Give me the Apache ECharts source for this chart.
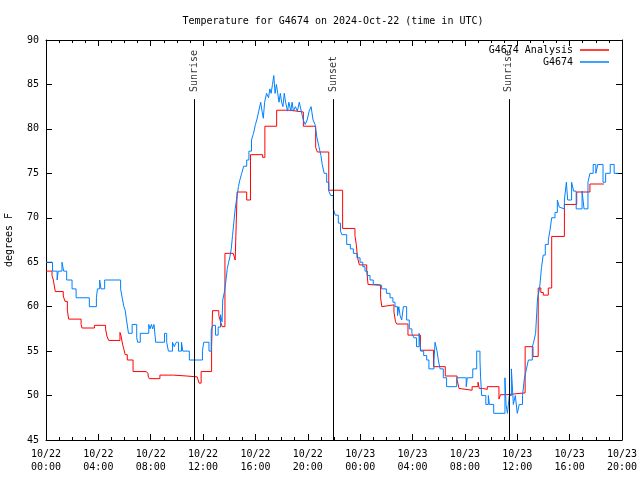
<!DOCTYPE html>
<html><head><meta charset="utf-8">
<script src="https://cdn.jsdelivr.net/npm/echarts@6/dist/echarts.min.js"></script>
<style>html,body{margin:0;padding:0;background:#fff}#c{width:640px;height:480px}</style>
</head><body><div id="c"></div>
<script>
// Hours since 2024-10-22 00:00 UTC
const xTickHours = [0,4,8,12,16,20,24,28,32,36,40,44];
const xTickLabels = ["10/22\n00:00","10/22\n04:00","10/22\n08:00","10/22\n12:00","10/22\n16:00","10/22\n20:00",
  "10/23\n00:00","10/23\n04:00","10/23\n08:00","10/23\n12:00","10/23\n16:00","10/23\n20:00"];
const yTicks = [45,50,55,60,65,70,75,80,85,90];

const analysisHours = [0,0.46,0.56,0.66,0.71,1.32,1.45,1.63,1.73,2.68,2.75,3.7,4.55,4.65,4.79,5.65,5.72,5.86,5.95,6.05,6.21,6.65,7.64,7.8,7.89,8.7,9.73,10.75,11.55,11.69,11.85,12.65,12.72,13.2,13.3,13.45,13.67,14.3,14.45,14.6,15.33,15.62,16.55,16.72,17.62,18.64,19.66,20.6,20.73,21.6,22.66,23.6,23.7,23.8,23.94,24.5,24.6,24.7,25.56,25.65,25.77,26.58,26.7,26.79,27.65,28.6,29.6,30.5,31.4,31.55,31.63,32.55,33.0,33.1,33.36,33.71,34.6,34.72,35.2,36.6,37.2,37.6,37.8,37.99,38.37,38.63,39.6,40.54,41.55,42.62];
const analysisTemps = [64,63.5,63,62.8,61.7,61.2,60.6,59.6,58.6,58.0,57.6,57.9,57.5,56.7,56.2,57.1,56.8,55.7,55.2,54.6,54.0,52.7,52.5,52.2,51.9,52.3,52.2,52.1,52.0,51.4,52.7,55.5,59.55,59.0,58.5,57.75,66.0,66.2,65.25,72.9,72.0,77.1,76.8,80.3,82.1,81.9,80.3,77.9,77.4,73.1,68.8,68.0,67.0,65.5,64.7,64.1,62.5,62.4,61.0,60.0,60.2,59.4,58.3,58.05,56.8,55.1,53.25,52.2,51.8,50.8,50.6,51.0,51.5,50.8,50.7,51.0,49.6,50.1,50.3,55.5,54.4,62.1,61.6,61.3,62.1,67.9,71.5,72.9,73.8,73.8];

const obsHours = [0,0.5,0.85,0.93,1.22,1.35,1.58,1.99,2.3,3.31,3.85,3.93,4.1,4.2,4.48,5.7,5.82,5.95,6.05,6.15,6.25,6.3,6.58,6.93,7.0,7.2,7.85,7.95,8.05,8.15,8.25,8.38,9.05,9.22,9.35,9.66,9.8,9.95,10.12,10.35,10.45,10.95,11.95,12.05,12.45,12.62,12.75,12.95,13.15,13.33,13.45,13.5,13.62,13.75,13.85,13.95,14.05,14.15,14.25,14.35,14.45,14.6,14.7,14.8,14.95,15.1,15.33,15.5,15.7,15.85,16.0,16.1,16.25,16.4,16.5,16.6,16.7,16.85,17.0,17.1,17.2,17.3,17.4,17.5,17.6,17.7,17.8,17.9,18.0,18.1,18.2,18.3,18.45,18.55,18.7,18.8,18.9,19.05,19.2,19.35,19.5,19.65,19.8,19.95,20.1,20.25,20.4,20.55,20.7,20.85,21.0,21.1,21.25,21.44,21.6,21.75,21.95,22.1,22.33,22.5,22.6,22.97,23.25,23.48,23.75,23.99,24.2,24.37,24.55,24.75,25.0,25.39,25.64,26.0,26.28,26.5,26.66,26.85,26.95,27.05,27.17,27.3,27.45,27.55,27.75,27.95,28.1,28.3,28.5,28.62,28.85,29.08,29.25,29.64,29.72,29.87,29.97,30.1,30.35,30.6,31.37,32.1,32.18,32.6,32.9,33.15,33.2,33.28,33.6,33.79,33.87,34.2,35.06,35.14,35.25,35.39,35.55,35.7,35.85,36.0,36.15,36.4,36.55,36.7,36.85,37.15,37.25,37.4,37.55,37.7,37.85,37.98,38.14,38.37,38.5,38.63,38.88,39.06,39.21,39.35,39.6,39.75,39.85,40.15,40.3,40.5,40.95,41.1,41.4,41.55,41.8,42.0,42.15,42.55,42.75,43.1,43.4,43.72];
const obsTemps = [65,64,63,64,65,64,63,62,61,60,61,62,63,62,63,62,61,60,59.6,58.5,57.5,57,58,56.5,56,57,58,57.5,58,57.5,58,56,57,56,55,56,55.5,56,55,56,55,54,55,56,55,57.4,57.9,56.8,57.7,59.1,58.3,60.75,61.6,63,64.3,65,65.6,66.5,68,69.5,71,72.5,73.5,74.2,75,75.8,76.5,77.5,78.75,79.5,80.5,81,82,83,82,81.2,83,84,83.5,84.5,84,85,86,84,85,84,83,84,83,82.5,84,83,82,83,82,83,82,82.5,82,83,82,81,80.5,81,82,82.5,81,80.5,79,78,77,76,75,74,73,72.5,71,70.3,69.4,68.5,68.1,67,66.5,66,65.5,65,64.5,64,63.5,63,62.5,62.4,62,61.5,61,60.5,60,59,60,59,58.5,60,60,58.5,57.5,57,56.5,55.5,57,55,54.5,54,53,54,56,55,54,53,52,51,52,51,52,53,55,54,52,50,49,50,49,48,52,49,48,50,53,49,50,48,49,50,52,53,54,55.5,56,57,61,62,64.4,65.8,67,67.5,68.6,70,70.6,72,71.2,71,72,74,72,74,73,71,73,71,74,75,76,75,76,74,75,76,75,75];

const markerHours = [11.35, 21.95, 35.35];
const markerLabels = ["Sunrise", "Sunset", "Sunrise"];
const markerLineTop = 83.35;
const markerLabelBase = 84.15;

const FONT = '"DejaVu Sans Mono", "Liberation Mono", monospace';
const zip = (a, b) => a.map((v, i) => [v, b[i]]);

const axisCommon = {
  type: 'value', min: 0, max: 44, interval: 4,
  axisLine: { show: true, onZero: false, lineStyle: { color: '#000', width: 1 } },
  axisTick: { show: true, inside: true, length: 6, lineStyle: { color: '#000' } },
  minorTick: { show: true, splitNumber: 4, length: 3, lineStyle: { color: '#000' } },
  splitLine: { show: false }, minorSplitLine: { show: false }
};
const yCommon = {
  type: 'value', min: 45, max: 90, interval: 5,
  axisLine: { show: true, onZero: false, lineStyle: { color: '#000', width: 1 } },
  axisTick: { show: true, inside: true, length: 6, lineStyle: { color: '#000' } },
  splitLine: { show: false }
};

const chart = echarts.init(document.getElementById('c'), null, { renderer: 'canvas' });
chart.setOption({
  animation: false,
  backgroundColor: '#fff',
  title: {
    text: 'Temperature for G4674 on 2024-Oct-22 (time in UTC)',
    left: 328, top: 11, textAlign: 'center',
    textStyle: { fontFamily: FONT, fontSize: 10, fontWeight: 'normal', color: '#000' }
  },
  legend: [
    { data: [{ name: 'G4674 Analysis', icon: 'rect' }], right: 31, top: 44, orient: 'vertical', align: 'right',
      itemWidth: 29, itemHeight: 1.5, padding: 0,
      textStyle: { fontFamily: FONT, fontSize: 10, color: '#000', padding: [0, 2, 0, 0], lineHeight: 12 } },
    { data: [{ name: 'G4674', icon: 'rect' }], right: 31, top: 56, orient: 'vertical', align: 'right',
      itemWidth: 29, itemHeight: 1.5, padding: 0,
      textStyle: { fontFamily: FONT, fontSize: 10, color: '#000', padding: [0, 2, 0, 0], lineHeight: 12 } }
  ],
  grid: { left: 46, right: 18, top: 40, bottom: 40, containLabel: false, outerBoundsMode: 'none' },
  xAxis: [
    Object.assign({}, axisCommon, {
      position: 'bottom',
      axisLabel: { show: true, margin: 8, fontFamily: FONT, fontSize: 10, color: '#000', lineHeight: 13,
        formatter: v => xTickLabels[xTickHours.indexOf(v)] || '' }
    }),
    Object.assign({}, axisCommon, { position: 'top', axisLabel: { show: false } })
  ],
  yAxis: [
    Object.assign({}, yCommon, {
      position: 'left', name: 'degrees F', nameLocation: 'middle', nameGap: 32, nameRotate: 90,
      nameTextStyle: { fontFamily: FONT, fontSize: 10, color: '#000' },
      axisLabel: { show: true, margin: 7, fontFamily: FONT, fontSize: 10, color: '#000',
        formatter: v => (yTicks.indexOf(v) >= 0 ? String(v) : '') }
    }),
    Object.assign({}, yCommon, { position: 'right', axisLabel: { show: false } })
  ],
  series: [
    { name: 'G4674 Analysis', type: 'line', step: 'end', showSymbol: false, symbol: 'none',
      data: zip(analysisHours, analysisTemps), color: '#ff0000',
      lineStyle: { color: '#ff0000', width: 1 }, z: 2 },
    { name: 'G4674', type: 'line', step: 'end', showSymbol: false, symbol: 'none',
      data: zip(obsHours, obsTemps), color: '#0080ff',
      lineStyle: { color: '#0080ff', width: 1 }, z: 3 },
    { name: 'markers', type: 'scatter', symbolSize: 0, z: 4,
      data: markerHours.map((h, i) => ({ value: [h, markerLabelBase], name: markerLabels[i] })),
      label: { show: true, formatter: p => p.name, rotate: 90, position: [0, 0], align: 'left', verticalAlign: 'middle',
        fontFamily: FONT, fontSize: 10, color: '#000' },
      markLine: { symbol: 'none', silent: true, animation: false,
        lineStyle: { color: '#000', width: 1, type: 'solid' },
        label: { show: false },
        data: markerHours.map(h => [{ coord: [h, 45] }, { coord: [h, markerLineTop] }]) }
    }
  ]
});
</script></body></html>
